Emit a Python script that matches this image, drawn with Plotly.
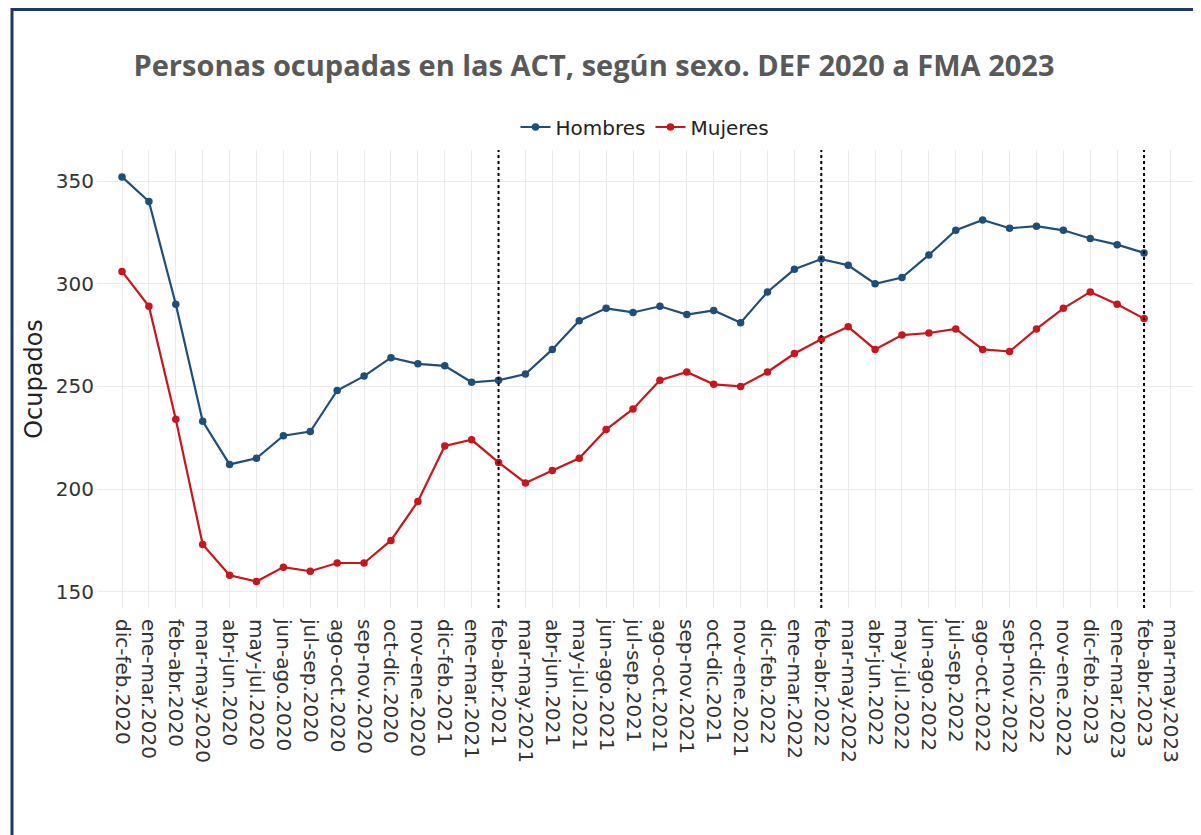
import plotly.graph_objects as go

categorias = [
    "dic-feb.2020", "ene-mar.2020", "feb-abr.2020", "mar-may.2020", "abr-jun.2020",
    "may-jul.2020", "jun-ago.2020", "jul-sep.2020", "ago-oct.2020", "sep-nov.2020",
    "oct-dic.2020", "nov-ene.2020", "dic-feb.2021", "ene-mar.2021", "feb-abr.2021",
    "mar-may.2021", "abr-jun.2021", "may-jul.2021", "jun-ago.2021", "jul-sep.2021",
    "ago-oct.2021", "sep-nov.2021", "oct-dic.2021", "nov-ene.2021", "dic-feb.2022",
    "ene-mar.2022", "feb-abr.2022", "mar-may.2022", "abr-jun.2022", "may-jul.2022",
    "jun-ago.2022", "jul-sep.2022", "ago-oct.2022", "sep-nov.2022", "oct-dic.2022",
    "nov-ene.2022", "dic-feb.2023", "ene-mar.2023", "feb-abr.2023", "mar-may.2023",
]

hombres = [352, 340, 290, 233, 212, 215, 226, 228, 248, 255,
           264, 261, 260, 252, 253, 256, 268, 282, 288, 286,
           289, 285, 287, 281, 296, 307, 312, 309, 300, 303,
           314, 326, 331, 327, 328, 326, 322, 319, 315]

mujeres = [306, 289, 234, 173, 158, 155, 162, 160, 164, 164,
           175, 194, 221, 224, 213, 203, 209, 215, 229, 239,
           253, 257, 251, 250, 257, 266, 273, 279, 268, 275,
           276, 278, 268, 267, 278, 288, 296, 290, 283]

lineas_verticales = ["feb-abr.2021", "feb-abr.2022", "feb-abr.2023"]

titulo = "Personas ocupadas en las ACT, según sexo. DEF 2020 a FMA 2023"

color_h = "#1F4E79"
color_m = "#C8161D"
tick_font = dict(family="DejaVu Sans", size=20, color="#333333")

fig = go.Figure()
fig.add_trace(go.Scatter(
    x=categorias[:len(hombres)], y=hombres, name="Hombres", mode="lines+markers",
    line=dict(color=color_h, width=2.2), marker=dict(color=color_h, size=7.5),
))
fig.add_trace(go.Scatter(
    x=categorias[:len(mujeres)], y=mujeres, name="Mujeres", mode="lines+markers",
    line=dict(color=color_m, width=2.2), marker=dict(color=color_m, size=7.5),
))

for c in lineas_verticales:
    fig.add_shape(type="line", xref="x", yref="paper", x0=c, x1=c, y0=0, y1=1,
                  line=dict(color="black", width=2, dash="dot"), layer="above")

# page body adds an 8px offset; figure coordinates below are shifted by it
OFF = 8
W, H = 1201 - OFF, 835 - OFF
L, R, T, B = 97 - OFF, 8, 150 - OFF, 227
pw, ph = W - L - R, H - T - B


def px_x(x):
    return (x - OFF - L) / pw


def px_y(y):
    return (T + ph - (y - OFF)) / ph


# marco exterior de la diapositiva
fig.add_shape(type="rect", xref="paper", yref="paper",
              x0=px_x(12), x1=px_x(1215), y0=px_y(850), y1=px_y(9.5),
              line=dict(color="#1F3864", width=3), fillcolor="rgba(0,0,0,0)",
              layer="above")

fig.update_layout(
    width=W, height=H,
    margin=dict(l=L, r=R, t=T, b=B, autoexpand=False),
    paper_bgcolor="white", plot_bgcolor="white",
    title=dict(text="<b>" + titulo + "</b>", x=(594 - OFF) / W, xanchor="center",
               y=1 - (66 - OFF) / H, yanchor="middle",
               font=dict(family="Open Sans", size=29, color="#595959")),
    legend=dict(orientation="h", x=0.5, xanchor="center",
                y=px_y(127), yanchor="middle",
                font=dict(family="DejaVu Sans", size=20, color="#222222"),
                bgcolor="rgba(0,0,0,0)"),
    showlegend=True,
)
fig.update_xaxes(
    type="category", categoryorder="array", categoryarray=categorias,
    tickvals=categorias, ticktext=categorias,
    range=[-0.93, 39.82], tickangle=90, tickfont=tick_font,
    ticklabelstandoff=10,
    showgrid=True, gridcolor="#EBEBEB", gridwidth=1, showline=False,
    zeroline=False, ticks="", automargin=False,
)
fig.update_yaxes(
    range=[142.1, 365.1], tickvals=[150, 200, 250, 300, 350], tickfont=tick_font,
    ticklabelstandoff=2,
    showgrid=True, gridcolor="#EBEBEB", gridwidth=1, showline=False,
    zeroline=False, ticks="", automargin=False,
    title=dict(text="Ocupados", standoff=6,
               font=dict(family="DejaVu Sans", size=24, color="#222222")),
)

fig.write_html("out.html")
